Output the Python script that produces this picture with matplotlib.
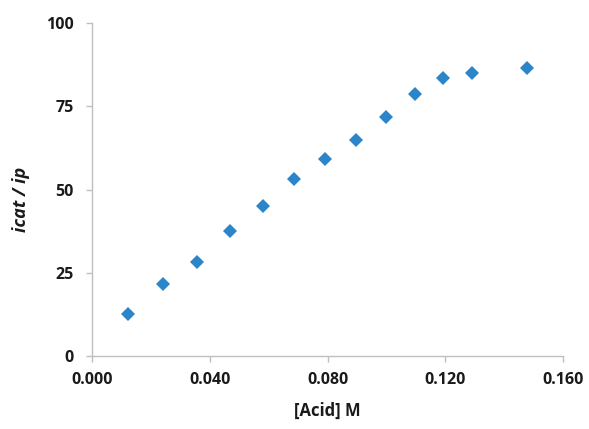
import matplotlib
matplotlib.use("Agg")
import matplotlib.pyplot as plt

acid = [0.0121, 0.0239, 0.0356, 0.0468, 0.0580, 0.0687, 0.0793, 0.0896,
        0.0998, 0.1098, 0.1194, 0.1290, 0.1479]
ratio = [12.5, 21.7, 28.4, 37.6, 45.0, 53.2, 59.1, 64.9, 71.7, 78.7, 83.6,
         85.2, 86.5]
xticks = [0.000, 0.040, 0.080, 0.120, 0.160]
yticks = [0, 25, 50, 75, 100]

plt.rcParams['font.family'] = ['Open Sans', 'DejaVu Sans']

W, H = 589, 429
fig = plt.figure(figsize=(W / 100, H / 100), dpi=100)
ax = fig.add_axes([92.3 / W, 1 - 356 / H, (562.7 - 92.3) / W, (356 - 23.3) / H])

ax.plot(acid, ratio, linestyle='none', marker='D', markersize=7,
        color='#2A85C9', markeredgewidth=0)

ax.set_xlim(0, 0.160)
ax.set_ylim(0, 100)
ax.set_xticks(xticks)
ax.set_xticklabels([f"{v:.3f}" for v in xticks])
ax.set_yticks(yticks)
ax.set_yticklabels([str(v) for v in yticks])

for s in ['top', 'right']:
    ax.spines[s].set_visible(False)
for s in ['left', 'bottom']:
    ax.spines[s].set_color('#BFBFBF')
    ax.spines[s].set_linewidth(1)

ax.tick_params(axis='both', direction='out', length=4.5, width=1, color='#BFBFBF',
               labelsize=11.5, labelcolor='#1a1a1a')
ax.tick_params(axis='x', pad=7)
ax.tick_params(axis='y', pad=9)
for lab in ax.get_xticklabels() + ax.get_yticklabels():
    lab.set_fontweight('bold')

fig.text(327.5 / W, 1 - 411 / H, '[Acid] M', fontsize=12, fontweight='bold',
         color='#1a1a1a', ha='center', va='center')
ax.set_ylabel('icat / ip', fontsize=13, fontweight='bold', fontstyle='italic',
              color='#1a1a1a')
ax.yaxis.set_label_coords(-0.132, 0.47)

fig.savefig('out.png', dpi=100)
